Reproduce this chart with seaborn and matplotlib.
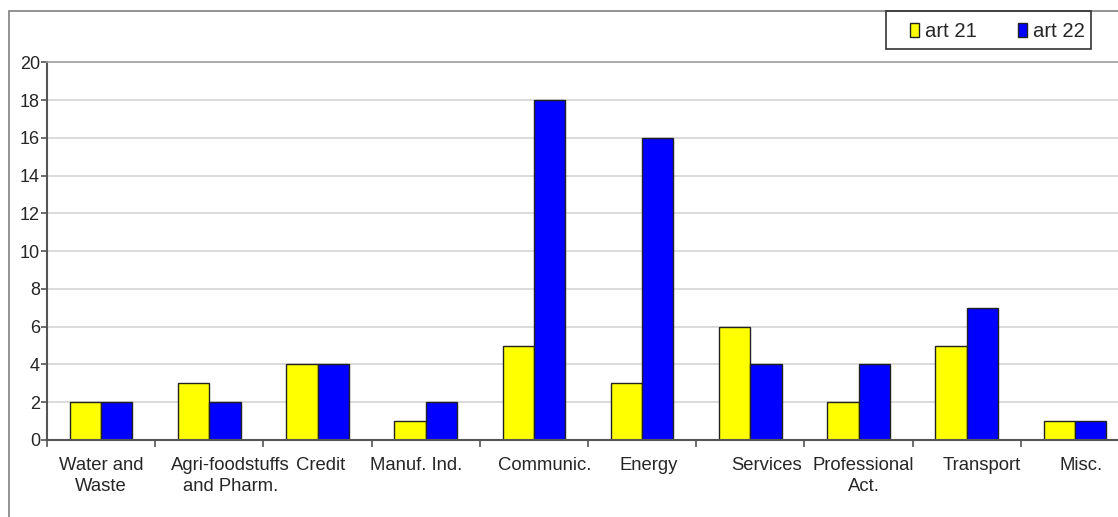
import numpy as np
import pandas as pd
import seaborn as sns
import matplotlib
from matplotlib import pyplot as plt
from matplotlib.patches import Rectangle
from matplotlib.transforms import ScaledTranslation

categories = ['Water and\nWaste', 'Agri-foodstuffs\nand Pharm.', 'Credit', 'Manuf. Ind.',
              'Communic.', 'Energy', 'Services', 'Professional\nAct.', 'Transport', 'Misc.']
art21 = [2, 3, 4, 1, 5, 3, 6, 2, 5, 1]
art22 = [2, 2, 4, 2, 18, 16, 4, 4, 7, 1]
series = ['art 21', 'art 22']

sns.set_style('white')
plt.rcParams['font.family'] = ['Liberation Sans', 'DejaVu Sans']

df = pd.DataFrame({'cat': categories * 2,
                   'value': art21 + art22,
                   'series': [series[0]] * len(categories) + [series[1]] * len(categories)})

fig = plt.figure(figsize=(11.18, 5.17), dpi=100)
ax = fig.add_axes([47 / 1118, 77 / 517, 1082 / 1118, 377.7 / 517])

sns.barplot(data=df, x='cat', y='value', hue='series', ax=ax,
            palette={'art 21': '#FFFF00', 'art 22': '#0000FF'},
            width=0.58, edgecolor='#222222', linewidth=1.0, saturation=1)

ax.set_ylim(0, 20)
ax.set_yticks(np.arange(0, 21, 2))
ax.set_xlabel('')
ax.set_ylabel('')
ax.yaxis.grid(True, color='#d4d4d4', linewidth=1.2)
ax.set_axisbelow(True)

for s in ['left', 'bottom']:
    ax.spines[s].set_color('#555555')
    ax.spines[s].set_linewidth(1.5)
ax.spines['top'].set_color('#a0a0a0')
ax.spines['top'].set_linewidth(1.2)
ax.spines['right'].set_visible(False)

ax.tick_params(axis='y', labelsize=13, length=4, width=1.2, color='#555555', pad=1, left=True)
ax.set_xticks(np.arange(-0.5, 10, 1), minor=True)
ax.tick_params(axis='x', which='major', length=0, labelsize=13.3, pad=12)
ax.tick_params(axis='x', which='minor', length=5, width=1.2, color='#555555', bottom=True)

# Excel places the wrapped labels a bit off-centre
offsets = [0, 21, 3, -10, 11, 7, 16, 5, 15, 6]
for lab, dx in zip(ax.get_xticklabels(), offsets):
    lab.set_transform(lab.get_transform() + ScaledTranslation(dx / 100, 0, fig.dpi_scale_trans))
    lab.set_linespacing(1.35)

h, l = ax.get_legend_handles_labels()
ax.get_legend().remove()
fig.legend(h, l, loc='upper right', bbox_to_anchor=(1101 / 1118, 1 - 6 / 517), ncol=2,
           frameon=False, fontsize=14.6, handlelength=0.45, handleheight=0.65,
           handletextpad=0.3, columnspacing=2.0, borderpad=0.3)

fig.patches.append(Rectangle((886 / 1118, 1 - 49 / 517), 205 / 1118, 38 / 517,
                             transform=fig.transFigure, fill=False,
                             edgecolor='#333333', linewidth=1.2, zorder=5))
fig.patches.append(Rectangle((9 / 1118, -0.2), 1.5, 1.2 - 11 / 517,
                             transform=fig.transFigure, fill=False,
                             edgecolor='#808080', linewidth=1.2, zorder=4))

plt.savefig('out.png', dpi=100)
